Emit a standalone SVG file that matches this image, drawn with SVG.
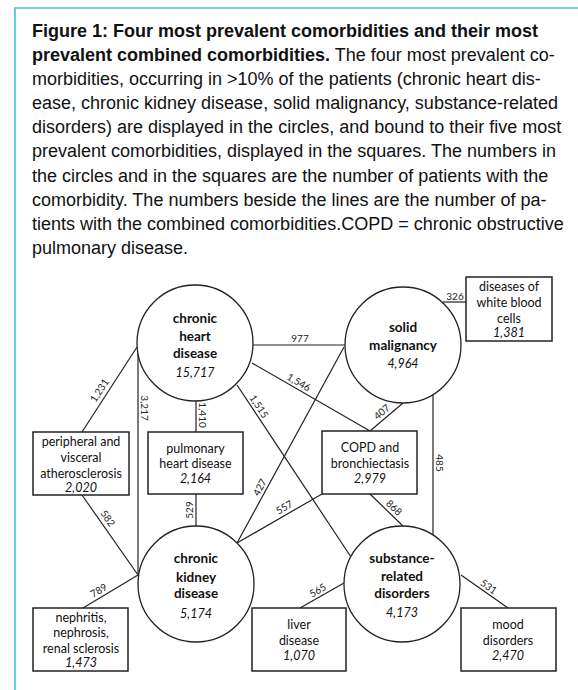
<svg xmlns="http://www.w3.org/2000/svg" width="578" height="690" viewBox="0 0 578 690">
<style>
.cap{font-family:"Liberation Sans",Arial,sans-serif;font-size:18px;fill:#111}
.b{font-weight:bold}
.n{font-family:Lato,"Open Sans","Liberation Sans",sans-serif;fill:#111;text-anchor:middle}
.ct{font-size:13.5px;font-weight:bold}
.bt{font-size:12.5px}
.num{font-style:italic}
.lb{font-family:Lato,"Open Sans","Liberation Sans",sans-serif;font-size:10px;fill:#222;text-anchor:middle}
.circ{fill:#fff;stroke:#222;stroke-width:1.3}
.box{fill:#fff;stroke:#222;stroke-width:1.5}
.ln{stroke:#222;stroke-width:1.2;fill:none}
</style>
<rect x="0" y="0" width="578" height="690" fill="#fff"/>
<path d="M15,690 V8 H578" fill="none" stroke="#45c1d8" stroke-width="1.6"/>
<g id="caption">
<text class="cap b" x="32" y="37">Figure 1: Four most prevalent comorbidities and their most</text>
<text class="cap" x="32" y="61"><tspan class="b">prevalent combined comorbidities.</tspan> The four most prevalent co-</text>
<text class="cap" x="32" y="85">morbidities, occurring in &gt;10% of the patients (chronic heart dis-</text>
<text class="cap" x="32" y="109">ease, chronic kidney disease, solid malignancy, substance-related</text>
<text class="cap" x="32" y="133">disorders) are displayed in the circles, and bound to their five most</text>
<text class="cap" x="32" y="157">prevalent comorbidities, displayed in the squares. The numbers in</text>
<text class="cap" x="32" y="182">the circles and in the squares are the number of patients with the</text>
<text class="cap" x="32" y="206">comorbidity. The numbers beside the lines are the number of pa-</text>
<text class="cap" x="32" y="230">tients with the combined comorbidities.COPD = chronic obstructive</text>
<text class="cap" x="32" y="254">pulmonary disease.</text>
</g>
<g id="connectors">
<line class="ln" x1="137" y1="347" x2="82" y2="432"/>
<line class="ln" x1="138" y1="353" x2="138" y2="574"/>
<line class="ln" x1="196" y1="401" x2="196" y2="432"/>
<line class="ln" x1="237" y1="385" x2="351" y2="557"/>
<line class="ln" x1="252" y1="363" x2="370" y2="431"/>
<line class="ln" x1="253" y1="345" x2="345" y2="345"/>
<line class="ln" x1="443" y1="302" x2="466" y2="302"/>
<line class="ln" x1="403" y1="403" x2="370" y2="431"/>
<line class="ln" x1="344" y1="347" x2="237" y2="543"/>
<line class="ln" x1="433" y1="395" x2="433" y2="535"/>
<line class="ln" x1="138" y1="575" x2="82" y2="495"/>
<line class="ln" x1="196" y1="494" x2="196" y2="526"/>
<line class="ln" x1="237" y1="543" x2="322" y2="494"/>
<line class="ln" x1="138" y1="575" x2="83" y2="608"/>
<line class="ln" x1="370" y1="494" x2="403" y2="526"/>
<line class="ln" x1="344" y1="583" x2="300" y2="608"/>
<line class="ln" x1="461" y1="575" x2="508" y2="608"/>
<text class="lb" transform="translate(105,394) rotate(-57.4)" y="-3">1,231</text>
<text class="lb" transform="translate(138,408) rotate(90)" y="-3">3,217</text>
<text class="lb" transform="translate(196,415) rotate(90)" y="-3">1,410</text>
<text class="lb" transform="translate(253.5,410) rotate(56.5)" y="-3">1,515</text>
<text class="lb" transform="translate(295.5,388) rotate(30)" y="-3">1,546</text>
<text class="lb" x="300" y="342">977</text>
<text class="lb" x="455" y="300">326</text>
<text class="lb" transform="translate(386,417) rotate(-40.3)" y="-3">407</text>
<text class="lb" transform="translate(265.5,490.5) rotate(-61.4)" y="-3">427</text>
<text class="lb" transform="translate(433,463) rotate(90)" y="-3">485</text>
<text class="lb" transform="translate(102.5,522) rotate(55)" y="-3">582</text>
<text class="lb" transform="translate(196,510) rotate(-90)" y="-3">529</text>
<text class="lb" transform="translate(287.5,513) rotate(-30)" y="-3">557</text>
<text class="lb" transform="translate(102,596) rotate(-31)" y="-3">789</text>
<text class="lb" transform="translate(389.5,512.5) rotate(44)" y="-3">868</text>
<text class="lb" transform="translate(321,596) rotate(-29.6)" y="-3">565</text>
<text class="lb" transform="translate(485,592) rotate(35)" y="-3">531</text>
</g>
<g id="heart">
<circle class="circ" cx="195" cy="343" r="58"/>
<text class="n ct" x="195" y="323">chronic</text>
<text class="n ct" x="195" y="341">heart</text>
<text class="n ct" x="195" y="358">disease</text>
<text class="n bt num" x="195" y="377">15,717</text>
</g>
<g id="solid">
<circle class="circ" cx="403" cy="345" r="58"/>
<text class="n ct" x="403" y="332">solid</text>
<text class="n ct" x="403" y="350">malignancy</text>
<text class="n bt num" x="403" y="368">4,964</text>
</g>
<g id="kidney">
<circle class="circ" cx="196" cy="584" r="58"/>
<text class="n ct" x="196" y="563">chronic</text>
<text class="n ct" x="196" y="582">kidney</text>
<text class="n ct" x="196" y="598">disease</text>
<text class="n bt num" x="196" y="618">5,174</text>
</g>
<g id="substance">
<circle class="circ" cx="402" cy="584" r="58"/>
<text class="n ct" x="402" y="563">substance-</text>
<text class="n ct" x="402" y="581">related</text>
<text class="n ct" x="402" y="598">disorders</text>
<text class="n bt num" x="402" y="617">4,173</text>
</g>
<g id="wbc">
<rect class="box" x="466" y="277" width="86" height="64"/>
<text class="n bt" x="509" y="291">diseases of</text>
<text class="n bt" x="509" y="307">white blood</text>
<text class="n bt" x="509" y="323">cells</text>
<text class="n bt num" x="509" y="337">1,381</text>
</g>
<g id="peripheral">
<rect class="box" x="33" y="432" width="96" height="63"/>
<text class="n bt" x="81" y="446">peripheral and</text>
<text class="n bt" x="81" y="462">visceral</text>
<text class="n bt" x="81" y="478">atherosclerosis</text>
<text class="n bt num" x="81" y="492">2,020</text>
</g>
<g id="pulmonary">
<rect class="box" x="148" y="432" width="95" height="62"/>
<text class="n bt" x="195.5" y="453">pulmonary</text>
<text class="n bt" x="195.5" y="468">heart disease</text>
<text class="n bt num" x="195.5" y="483">2,164</text>
</g>
<g id="copd">
<rect class="box" x="322" y="431" width="95" height="63"/>
<text class="n bt" x="370" y="452">COPD and</text>
<text class="n bt" x="370" y="468">bronchiectasis</text>
<text class="n bt num" x="370" y="483">2,979</text>
</g>
<g id="nephritis">
<rect class="box" x="33" y="608" width="95" height="63"/>
<text class="n bt" x="81" y="622">nephritis,</text>
<text class="n bt" x="81" y="637">nephrosis,</text>
<text class="n bt" x="81" y="653">renal sclerosis</text>
<text class="n bt num" x="81" y="667">1,473</text>
</g>
<g id="liver">
<rect class="box" x="252" y="608" width="94" height="63"/>
<text class="n bt" x="299" y="629">liver</text>
<text class="n bt" x="299" y="645">disease</text>
<text class="n bt num" x="299" y="660">1,070</text>
</g>
<g id="mood">
<rect class="box" x="461" y="608" width="95" height="63"/>
<text class="n bt" x="508" y="629">mood</text>
<text class="n bt" x="508" y="645">disorders</text>
<text class="n bt num" x="508" y="660">2,470</text>
</g>
</svg>
